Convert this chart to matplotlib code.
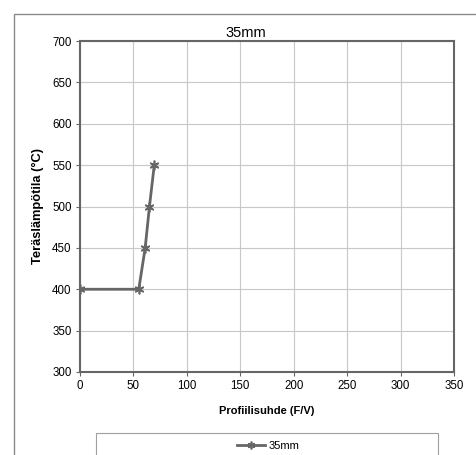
import matplotlib.pyplot as plt
from matplotlib.patches import Rectangle

plt.rcParams['font.family'] = ['Liberation Sans', 'DejaVu Sans']

# profile factor vs steel temperature
fv = [0, 55, 61, 65, 69.5]
temp = [400, 400, 450, 500, 550]
series_name = '35mm'

fig = plt.figure(figsize=(4.76, 4.55), dpi=100)
W, H = 476, 455

# outer chart border
fig.patches.append(Rectangle((14 / W, -0.1), 1.2, 1 - 14 / H + 0.1, transform=fig.transFigure,
                             fill=False, edgecolor='#8a8a8a', lw=1.0))

ax = fig.add_axes([80 / W, 1 - 372 / H, (454 - 80) / W, (372 - 41) / H])
ax.plot(fv, temp, color='#666666', lw=2, marker=(6, 2, 0), markersize=7,
        markeredgecolor='#666666', markeredgewidth=1.2, label=series_name)

ax.set_xlim(0, 350)
ax.set_ylim(300, 700)
ax.set_xticks(range(0, 351, 50))
ax.set_yticks(range(300, 701, 50))
ax.grid(True, color='#c8c8c8', lw=0.8)
ax.set_axisbelow(True)
for s in ax.spines.values():
    s.set_color('#666666')
    s.set_linewidth(1.5)
ax.tick_params(labelsize=8.3, length=3, color='#666666', pad=3)

fig.text(246 / W, 1 - 33 / H, '35mm', fontsize=10.5, ha='center', va='center')
ax.set_xlabel('Profiilisuhde (F/V)', fontsize=8, fontweight='bold', labelpad=10)
ax.set_ylabel('Teräslämpötila (°C)', fontsize=9.3, fontweight='bold', labelpad=6)

# legend box along the bottom
fig.patches.append(Rectangle((96 / W, -0.1), (438 - 96) / W, 1 - 433 / H + 0.1,
                             transform=fig.transFigure, fill=False, edgecolor='#a0a0a0', lw=0.8))
h, l = ax.get_legend_handles_labels()
fig.legend(h, l, loc='center', bbox_to_anchor=(268 / W, 1 - 446 / H), frameon=False,
           fontsize=8, handlelength=2.5, handletextpad=0.3, markerscale=0.8)

fig.savefig('out.png', dpi=100)
